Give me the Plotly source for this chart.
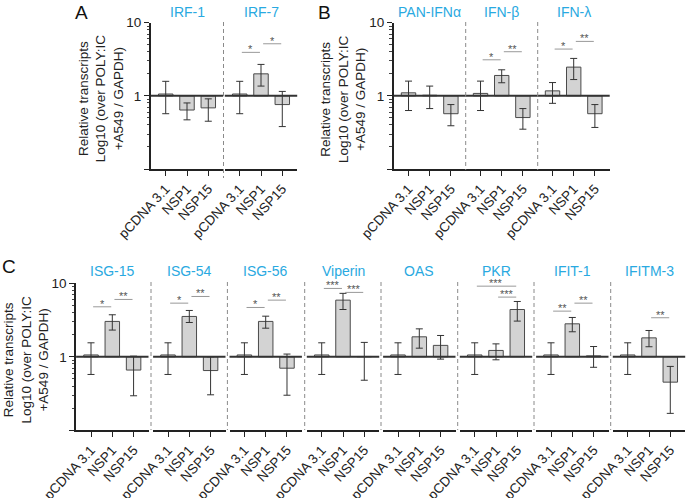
import math
import plotly.graph_objects as go

W, H = 686, 498

conditions = ["pCDNA 3.1", "NSP1", "NSP15"]

# Panel A
genes_A = ["IRF-1", "IRF-7"]
mean_A = [[1.06, 0.64, 0.685], [1.06, 2.00, 0.76]]
upper_A = [[1.58, 0.80, 0.91], [1.58, 2.69, 1.15]]
lower_A = [[0.57, 0.47, 0.45], [0.57, 1.36, 0.38]]
sig_A = [("IRF-7", 0, 1, 3.93, "*"), ("IRF-7", 1, 2, 5.15, "*")]

# Panel B
genes_B = ["PAN-IFNα", "IFN-β", "IFN-λ"]
mean_B = [[1.10, 1.02, 0.57], [1.08, 1.90, 0.505], [1.17, 2.47, 0.57]]
upper_B = [[1.59, 1.36, 0.76], [1.59, 2.27, 0.67], [1.52, 3.25, 0.76]]
lower_B = [[0.63, 0.67, 0.39], [0.63, 1.51, 0.35], [0.79, 1.67, 0.37]]
sig_B = [("IFN-β", 0, 1, 3.11, "*"), ("IFN-β", 1, 2, 4.01, "**"),
         ("IFN-λ", 0, 1, 4.36, "*"), ("IFN-λ", 1, 2, 5.55, "**")]

# Panel C
genes_C = ["ISG-15", "ISG-54", "ISG-56", "Viperin", "OAS", "PKR", "IFIT-1", "IFITM-3"]
mean_C = [[1.06, 3.03, 0.66], [1.06, 3.54, 0.65], [1.06, 3.03, 0.70],
          [1.06, 5.90, 1.01], [1.06, 1.87, 1.43], [1.06, 1.22, 4.40],
          [1.06, 2.81, 1.03], [1.06, 1.81, 0.452]]
upper_C = [[1.55, 3.73, 1.02], [1.55, 4.27, 1.00], [1.55, 3.57, 1.09],
           [1.55, 7.30, 1.57], [1.55, 2.40, 1.95], [1.55, 1.50, 5.66],
           [1.55, 3.43, 1.38], [1.55, 2.28, 0.74]]
lower_C = [[0.575, 2.31, 0.295], [0.575, 2.93, 0.304], [0.575, 2.45, 0.30],
           [0.575, 4.40, 0.48], [0.575, 1.31, 0.93], [0.575, 0.91, 3.06],
           [0.575, 2.19, 0.72], [0.575, 1.37, 0.17]]
sig_C = [("ISG-15", 0, 1, 4.79, "*"), ("ISG-15", 1, 2, 6.03, "**"),
         ("ISG-54", 0, 1, 5.37, "*"), ("ISG-54", 1, 2, 6.62, "**"),
         ("ISG-56", 0, 1, 4.69, "*"), ("ISG-56", 1, 2, 5.90, "**"),
         ("Viperin", 0, 1, 8.51, "***"), ("Viperin", 1, 2, 7.52, "***"),
         ("PKR", 0, 2, 9.14, "***"), ("PKR", 1, 2, 6.49, "***"),
         ("IFIT-1", 0, 1, 4.18, "**"), ("IFIT-1", 1, 2, 5.37, "**"),
         ("IFITM-3", 1, 2, 3.40, "**")]

y_title = "Relative transcripts<br>Log10 (over POLY:IC<br>+A549 / GAPDH)"

TITLE_COLOR = "#29A9E1"
FONT = "Arial, Liberation Sans, sans-serif"

panels = [
    dict(letter="A", genes=genes_A, mean=mean_A, upper=upper_A, lower=lower_A, sig=sig_A,
         centers=[187, 261], ytop=22.7, ybot=169, title_y=12, dash=(22, 178), gap=True,
         letter_pos=(81.5, 0, "top")),
    dict(letter="B", genes=genes_B, mean=mean_B, upper=upper_B, lower=lower_B, sig=sig_B,
         centers=[429.7, 501.7, 573.7], ytop=22.7, ybot=169, title_y=12, dash=(22, 170), gap=False,
         letter_pos=(324, 0, "top")),
    dict(letter="C", genes=genes_C, mean=mean_C, upper=upper_C, lower=lower_C, sig=sig_C,
         centers=[112.3, 189.3, 265.7, 343, 419.3, 496, 572.3, 649], ytop=283.3, ybot=430.3,
         title_y=271, dash=(282, 430), gap=True, letter_pos=(8.5, 266, "middle")),
]

fig = go.Figure()
layout = dict(width=W, height=H, margin=dict(l=0, r=0, t=0, b=0),
              paper_bgcolor="white", plot_bgcolor="white", showlegend=False,
              font=dict(family=FONT, size=12, color="#222"))
shapes = []
annotations = []

k = 0
minor_vals = [v * m for m in (0.1, 1) for v in range(2, 10)]
for p in panels:
    n = len(p["genes"])
    half = 36.2 if p["gap"] else 36.0
    for g in range(n):
        k += 1
        xa = "x" if k == 1 else f"x{k}"
        ya = "y" if k == 1 else f"y{k}"
        c = p["centers"][g]
        x0 = (c - half) / W
        x1 = (c + half) / W
        first = (g == 0)
        layout["xaxis" if k == 1 else f"xaxis{k}"] = dict(
            domain=[x0, x1], anchor=ya, type="category", range=[-0.7, 2.7],
            showline=True, linecolor="#222", linewidth=1.5, ticks="outside",
            ticklen=5, tickwidth=1.2, tickcolor="#222", tickangle=-47,
            showgrid=False, zeroline=False, tickfont=dict(size=13.5, color="#222"),
            fixedrange=True, automargin=False)
        ydict = dict(domain=[1 - p["ybot"] / H, 1 - p["ytop"] / H], anchor=xa,
                     type="log", range=[-1, 1], showgrid=False, zeroline=False,
                     fixedrange=True, automargin=False)
        if first:
            ydict.update(showline=True, linecolor="#222", linewidth=1.5,
                         ticks="outside", ticklen=5, tickwidth=1.2, tickcolor="#222",
                         tickmode="array", tickvals=[0.1, 1, 10], ticktext=["", "1", "10"],
                         tickfont=dict(size=13.5, color="#222"),
                         minor=dict(tickmode="array", tickvals=minor_vals, ticks="outside",
                                    ticklen=2.5, tickwidth=1, tickcolor="#444"))
        else:
            ydict.update(showline=False, ticks="", showticklabels=False)
        layout["yaxis" if k == 1 else f"yaxis{k}"] = ydict

        means = p["mean"][g]
        ups = p["upper"][g]
        lows = p["lower"][g]
        fig.add_trace(go.Bar(
            x=conditions, y=[m - 1 for m in means], base=[1, 1, 1], width=0.68,
            marker=dict(color="#D3D3D3", line=dict(color="#4a4a4a", width=1)),
            xaxis=xa, yaxis=ya, hoverinfo="skip"))
        fig.add_trace(go.Scatter(
            x=conditions, y=means, mode="markers",
            marker=dict(size=1, color="rgba(0,0,0,0)"),
            error_y=dict(type="data", symmetric=False,
                         array=[u - m for u, m in zip(ups, means)],
                         arrayminus=[m - l for m, l in zip(means, lows)],
                         color="#333", thickness=1, width=3.5),
            xaxis=xa, yaxis=ya, hoverinfo="skip"))

        # reference line at 1
        shapes.append(dict(type="line", xref=f"{xa} domain", yref=ya, x0=0, x1=1,
                           y0=1, y1=1, line=dict(color="#333", width=2), layer="above"))
        # gene title
        annotations.append(dict(text=p["genes"][g], xref="paper", yref="paper",
                                x=c / W, y=1 - p["title_y"] / H, showarrow=False,
                                xanchor="center", yanchor="middle",
                                font=dict(size=14, color=TITLE_COLOR)))
        # significance bars
        for (gene, i, j, lvl, lab) in p["sig"]:
            if gene != p["genes"][g]:
                continue
            shapes.append(dict(type="line", xref=xa, yref=ya, x0=i + 0.1, x1=j - 0.05,
                               y0=lvl, y1=lvl, line=dict(color="#999", width=1)))
            annotations.append(dict(text=lab, xref=xa, yref=ya, x=(i + j) / 2 + 0.02,
                                    y=math.log10(lvl),
                                    showarrow=False, xanchor="center", yanchor="bottom",
                                    yshift=-5, font=dict(size=11, color="#555")))
        # dashed separator
        if g > 0:
            sx = (c - 38.3 if p["gap"] else c - 36.0)
            if p["letter"] == "A":
                sx = c - 37.5
            shapes.append(dict(type="line", xref="paper", yref="paper",
                               x0=sx / W, x1=sx / W, y0=1 - p["dash"][0] / H,
                               y1=1 - p["dash"][1] / H,
                               line=dict(color="#8a8a8a", width=1, dash="4px,3px")))
    # y-axis title
    c0 = p["centers"][0] - 36.2
    annotations.append(dict(text=y_title, xref="paper", yref="paper",
                            x=(c0 - 50.3) / W, y=1 - (p["ytop"] + p["ybot"]) / 2 / H - 3 / H,
                            showarrow=False, textangle=-90, xanchor="center",
                            yanchor="middle", font=dict(size=13.5, color="#222")))
    # panel letter
    lx, lyp, anc = p["letter_pos"]
    annotations.append(dict(text=p["letter"], xref="paper", yref="paper",
                            x=lx / W, y=1 - lyp / H, showarrow=False,
                            xanchor="center", yanchor=anc,
                            font=dict(size=19, color="#111")))

layout["shapes"] = shapes
layout["annotations"] = annotations
fig.update_layout(**layout)
fig.write_html("out.html", config={"displayModeBar": False},
               post_script="document.body.style.margin='0';document.body.style.overflow='hidden';")
